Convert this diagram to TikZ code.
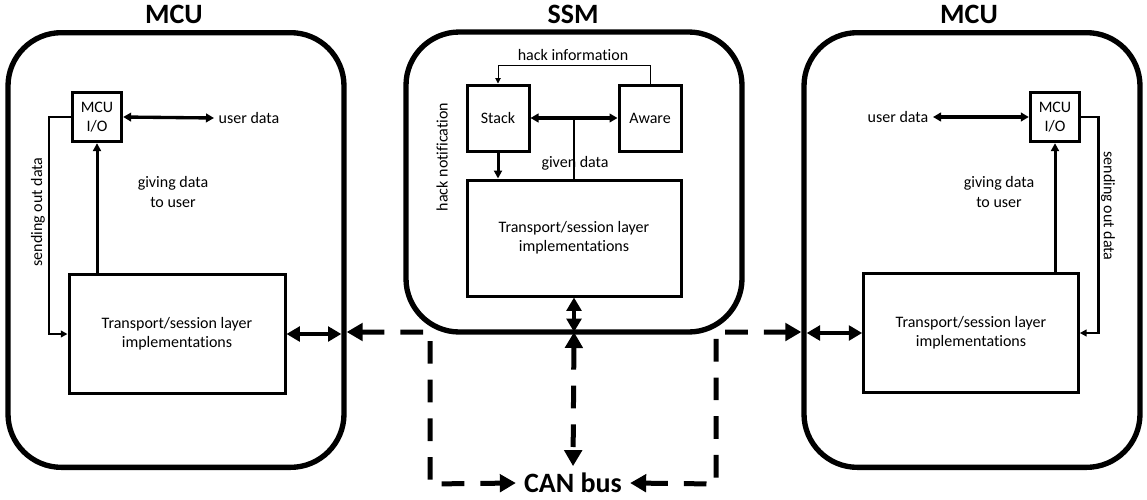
\documentclass[tikz,border=0pt]{standalone}
\usepackage{fontspec}
\setmainfont{Carlito}[Ligatures=NoCommon]
\usetikzlibrary{arrows.meta}

\begin{document}
\begin{tikzpicture}[x=0.75pt,y=-0.75pt,
  outer/.style={draw,line width=4pt,rounded corners=40pt,outer sep=0pt,minimum width=252pt},
  blk/.style={draw,line width=2.25pt,align=center,font=\fontsize{12}{14}\selectfont},
  lbl/.style={align=center,font=\fontsize{12}{14.5}\selectfont},
  title/.style={font=\bfseries\fontsize{21}{25}\selectfont},
  link/.style={line width=2.5pt,{Triangle[length=6pt,width=6.5pt]}-{Triangle[length=6pt,width=6.5pt]}},
  up/.style={line width=2.25pt,-{Triangle[length=6pt,width=6pt]}},
  feed/.style={line width=2pt,-{Triangle[length=5pt,width=5pt]}},
  hair/.style={line width=0.75pt,-{Triangle[length=4pt,width=4pt]}},
  port/.style={line width=3.2pt,{Triangle[length=10pt,width=11pt]}-{Triangle[length=10pt,width=11pt]}},
  bus/.style={line width=3.75pt,dash pattern=on 17pt off 12pt,{Triangle[length=12pt,width=13pt]}-{Triangle[length=12pt,width=13pt]}}]
  \useasboundingbox (0,0) rectangle (1147,500);
  \node[outer,minimum height=326pt] (mcul) at (176,250) {};
  \node[outer,minimum height=225pt] (ssm) at (574,182) {};
  \node[outer,minimum height=326pt] (mcur) at (972,250) {};
  \node[title] (tl) at (174,14) {MCU};
  \node[title] (ts) at (573,14) {SSM};
  \node[title] (tr) at (969,14) {MCU};
  \node[blk,minimum size=37pt] (iol) at (97,117) {MCU\\I/O};
  \node[blk,minimum width=162pt,minimum height=89pt] (trl) at (177,334) {Transport/session layer\\implementations};
  \node[blk,minimum width=46.5pt,minimum height=49.5pt] (stack) at (498,118) {Stack};
  \node[blk,minimum width=46.5pt,minimum height=49.5pt] (aware) at (650,118) {Aware};
  \node[blk,minimum width=160.5pt,minimum height=87pt] (trs) at (574,238) {Transport/session layer\\implementations};
  \node[blk,minimum size=37pt] (ior) at (1055,117) {MCU\\I/O};
  \node[blk,minimum width=161pt,minimum height=89pt] (trr) at (971,333) {Transport/session layer\\implementations};
  \node[lbl,anchor=west] (udl) at (214,118) {user data};
  \node[lbl,anchor=east] (udr) at (933,117) {user data};
  \node[lbl] (gl) at (173,192) {giving data\\to user};
  \node[lbl] (gr) at (999,192) {giving data\\to user};
  \node[lbl,rotate=90] (sl) at (38,212) {sending out data};
  \node[lbl,rotate=-90] (sr) at (1108,206) {sending out data};
  \node[lbl] (hi) at (573,55) {hack information};
  \node[lbl,rotate=90] (hn) at (442,157) {hack notification};
  \node[lbl] (gd) at (575,163) {given data};
  \node[title,inner xsep=6pt,inner ysep=1pt] (can) at (573,483) {CAN bus};
  \coordinate (bl) at (430,484);
  \coordinate (br) at (716,484);
  \draw[link] (iol.east) -- (udl.west);
  \draw[link] (udr.east) -- (ior.west);
  \draw[up] (iol.south |- trl.north) -- (iol.south);
  \draw[up] (ior.south |- trr.north) -- (ior.south);
  \draw[feed] (iol.west) -- ++(-22,0) |- (trl.west);
  \draw[feed] (ior.east) -- ++(17,0) |- (trr.east);
  \draw[port,shorten >=2pt] (trl.east) -- (trl.east -| mcul.east);
  \draw[port,shorten <=2pt] (trr.west -| mcur.west) -- (trr.west);
  \draw[link] (stack.east) -- (aware.west);
  \draw[line width=1.5pt] (trs.north) -- (trs.north |- stack.east);
  \draw[up] (stack.south) -- (stack.south |- trs.north);
  \draw[hair] (aware.north) -- ++(0,-18) -| (stack.north);
  \draw[port] (trs.south) -- (ssm.south);
  \draw[bus,shorten >=4pt] (ssm.south) -- (can.north);
  \draw[bus,shorten <=2pt] (mcul.east |- ssm.south) -| (bl) -- (can.west);
  \draw[bus,shorten >=2pt] (can.east) -- (br) |- (mcur.west |- ssm.south);
\end{tikzpicture}
\end{document}
